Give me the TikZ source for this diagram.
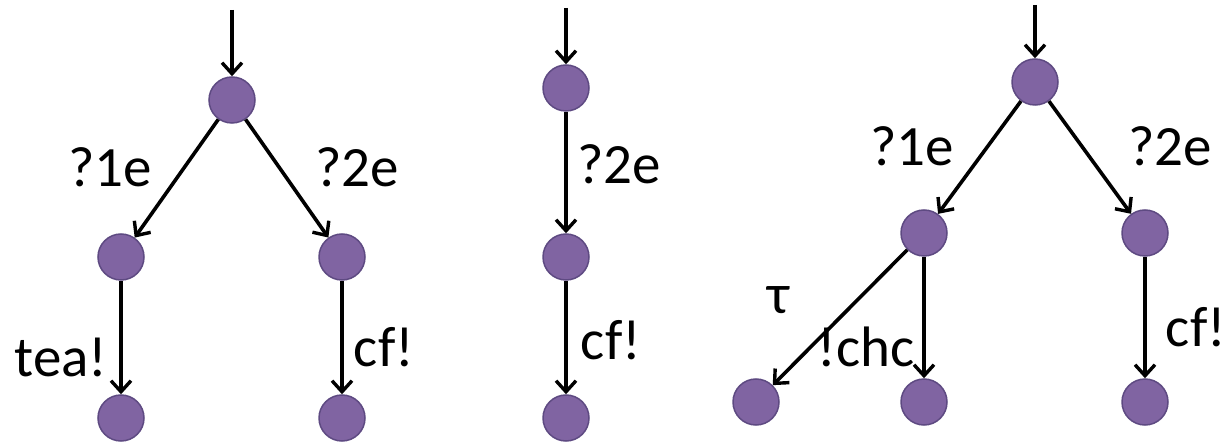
\documentclass[tikz,border=0pt]{standalone}
\usepackage{fontspec}
\setmainfont{Carlito}
\usetikzlibrary{arrows.meta}
\definecolor{stfill}{HTML}{8064A2}
\definecolor{stdraw}{HTML}{5E4A82}
\tikzset{
  st/.style={circle, fill=stfill, draw=stdraw, line width=1.5pt, minimum size=46pt, inner sep=0pt},
  tr/.style={line width=3.6pt, -{Straight Barb[length=11pt,width=20pt,line width=3.4pt]}},
  lbl/.style={font=\fontsize{57}{60}\selectfont, inner sep=0pt}
}
\begin{document}
\begin{tikzpicture}[x=1pt,y=-1pt]
\useasboundingbox (0,0) rectangle (1226,446);
% diagram 1
\coordinate (s1) at (232,10);
\node[st] (a0) at (232,100) {};
\node[st] (a1) at (121,257) {};
\node[st] (a2) at (342,257) {};
\node[st] (a3) at (121,418) {};
\node[st] (a4) at (342,418) {};
\draw[tr] (s1) -- (a0);
\draw[tr] (a0) -- (a1);
\draw[tr] (a0) -- (a2);
\draw[tr] (a1) -- (a3);
\draw[tr] (a2) -- (a4);
\node[lbl] (l1) at (110,167) {?1e};
\node[lbl] (l2) at (357,167) {?2e};
\node[lbl] (l3) at (61,357) {tea!};
\node[lbl] (l4) at (384,347) {cf!};
% diagram 2
\coordinate (s2) at (566,8);
\node[st] (b0) at (566,88) {};
\node[st] (b1) at (566,257) {};
\node[st] (b2) at (566,418) {};
\draw[tr] (s2) -- (b0);
\draw[tr] (b0) -- (b1);
\draw[tr] (b1) -- (b2);
\node[lbl] (l5) at (619,164) {?2e};
\node[lbl] (l6) at (611,340) {cf!};
% diagram 3
\coordinate (s3) at (1035,5);
\node[st] (c0) at (1035,82) {};
\node[st] (c1) at (924,233) {};
\node[st] (c2) at (1145,233) {};
\node[st] (c3) at (756,402) {};
\node[st] (c4) at (924,402) {};
\node[st] (c5) at (1145,402) {};
\draw[tr] (s3) -- (c0);
\draw[tr] (c0) -- (c1);
\draw[tr] (c0) -- (c2);
\draw[tr] (c1) -- (c3);
\draw[tr] (c1) -- (c4);
\draw[tr] (c2) -- (c5);
\node[lbl] (l7) at (912,146) {?1e};
\node[lbl] (l8) at (1170,146) {?2e};
\node[lbl] (l9) at (779,300) {τ};
\node[lbl] (l10) at (866,347) {!chc};
\node[lbl] (l11) at (1196,327) {cf!};
\end{tikzpicture}
\end{document}
